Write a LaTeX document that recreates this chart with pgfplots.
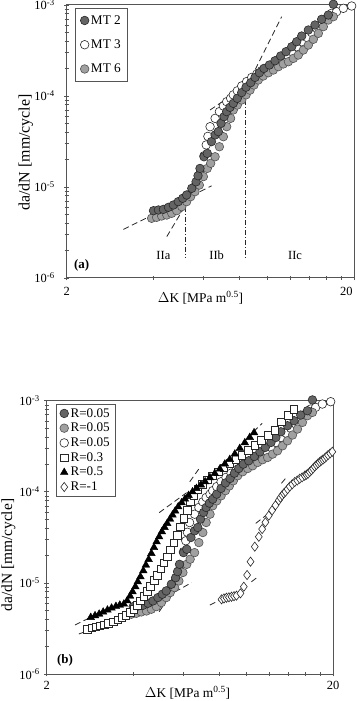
\documentclass[border=0pt]{standalone}
\usepackage{fontspec}
\setmainfont{Liberation Serif}
\usepackage{pgfplots}
\pgfplotsset{compat=1.18}
\definecolor{dk}{RGB}{100,100,100}
\definecolor{lt}{RGB}{160,160,160}
\definecolor{ed}{RGB}{40,40,40}
\definecolor{fr}{RGB}{85,85,85}
\tikzset{
  mtwo/.style={mark=*, mark size=4.3bp, mark options={fill=dk, draw=ed, line width=0.6bp}},
  mthree/.style={mark=*, mark size=4.3bp, mark options={fill=white, draw=ed, line width=0.6bp}},
  msix/.style={mark=*, mark size=4.3bp, mark options={fill=lt, draw=ed!80, line width=0.6bp}},
  rsq/.style={mark=square*, mark size=3.8bp, mark options={fill=white, draw=ed, line width=0.6bp}},
  rtri/.style={mark=triangle*, mark size=4.4bp, mark options={fill=black, draw=black, line width=0.4bp}},
  rdia/.style={mark=diamond*, mark size=4.6bp, mark options={fill=white, draw=ed, line width=0.6bp}},
  fitline/.style={black!85, line width=0.8bp, dash pattern=on 6bp off 3.5bp},
  bound/.style={black!85, line width=0.7bp, dash pattern=on 5bp off 2bp on 1bp off 2bp},
}
\begin{document}
\begin{tikzpicture}[x=1bp,y=1bp]
\useasboundingbox (0,0) rectangle (356,701);
% ---------------- panel (a) ----------------
\begin{axis}[
  xmode=log, ymode=log, scale only axis, clip=false,
  xmin=2, xmax=20, ymin=1e-6, ymax=1e-3,
  xtick={2,20}, xticklabels={2,{\makebox[0pt][r]{20\kern1.5bp}}},
  minor xtick={4,6,8,10,12,14,16,18},
  ytick={1e-6,1e-5,1e-4,1e-3},
  yticklabels={10\textsuperscript{-6},10\textsuperscript{-5},10\textsuperscript{-4},10\textsuperscript{-3}},
  minor ytick={2e-6,3e-6,4e-6,5e-6,6e-6,7e-6,8e-6,9e-6,2e-5,3e-5,4e-5,5e-5,6e-5,7e-5,8e-5,9e-5,2e-4,3e-4,4e-4,5e-4,6e-4,7e-4,8e-4,9e-4},
  xtick pos=left, ytick pos=left, tick align=center,
  major tick length=5bp, minor tick length=4bp,
  tick style={fr, line width=0.7bp},
  axis line style={fr, line width=1bp},
  tick label style={font=\fontsize{12.5}{14}\selectfont},
  legend cell align=left,
  at={(66.7bp,423bp)}, anchor=south west, width=287.3bp, height=273bp,
  x tick label style={yshift=-3bp}, y tick label style={xshift=-6bp},
  xlabel={$\Delta$K [MPa m\textsuperscript{0.5}]},
  ylabel={da/dN [mm/cycle]},
  xlabel style={at={(axis description cs:0.466,-0.072)}, anchor=center, font=\fontsize{13.5}{15}\selectfont},
  ylabel style={at={(axis description cs:-0.142,0.46)}, anchor=center, font=\fontsize{16}{18}\selectfont},
  legend style={at={(0.029,0.989)}, anchor=north west, draw=fr, line width=0.7bp,
    font=\fontsize{13.3}{15}\selectfont, row sep=10bp, inner xsep=5bp, inner ysep=5bp},
]
\addlegendimage{only marks, mtwo}\addlegendentry{MT 2}
\addlegendimage{only marks, mthree}\addlegendentry{MT 3}
\addlegendimage{only marks, msix}\addlegendentry{MT 6}
\addplot[fitline, forget plot] coordinates {(3.15,3.42e-6) (6.39,1.03e-5)};
\addplot[fitline, forget plot] coordinates {(4.46,2.85e-6) (5.23,6.61e-6)};
\addplot[fitline, forget plot] coordinates {(6.31,7.02e-5) (9.17,1.56e-4)};
\addplot[fitline, forget plot] coordinates {(8.46,1.27e-4) (11.20,7.44e-4)};
\addplot[bound, forget plot] coordinates {(5.19,7.8e-6) (5.19,1.64e-6)};
\addplot[bound, forget plot] coordinates {(8.35,9.0e-5) (8.35,1.64e-6)};
% MT 3
\addplot[only marks, mthree, forget plot] coordinates {
(4.25,5.2e-6) (4.50,5.5e-6) (4.75,5.9e-6) (4.96,6.6e-6) (5.30,8.2e-6) (5.59,1.01e-5) (5.82,1.41e-5)
(6.01,2.2e-5) (6.12,2.9e-5) (6.20,3.6e-5) (6.31,4.6e-5) (6.57,5.68e-5) (6.80,6.73e-5) (7.02,7.76e-5)
(7.21,8.66e-5) (7.44,9.43e-5) (7.60,1.03e-4) (7.85,1.14e-4) (8.13,1.29e-4) (8.46,1.44e-4) (8.81,1.60e-4)
(9.17,1.74e-4) (9.54,1.90e-4) (9.93,2.01e-4) (10.34,2.19e-4) (10.76,2.38e-4) (11.20,2.59e-4) (11.66,2.82e-4)
(12.14,3.07e-4) (12.63,3.48e-4) (13.15,3.95e-4) (13.69,4.41e-4) (14.24,4.97e-4) (14.83,5.54e-4) (15.43,6.29e-4)
(16.06,7.14e-4) (16.72,8.10e-4) (17.40,8.45e-4) (18.36,9.19e-4) (19.63,9.75e-4)};
% MT 6
\addplot[only marks, msix, forget plot] coordinates {
(3.95,4.53e-6) (4.11,4.64e-6) (4.28,4.80e-6) (4.46,4.92e-6) (4.64,5.14e-6) (4.83,5.49e-6) (5.03,6.08e-6)
(5.23,6.90e-6) (5.40,7.83e-6) (5.59,8.89e-6) (5.79,1.05e-5) (5.98,1.30e-5) (6.17,1.60e-5) (6.34,1.82e-5)
(6.57,2.15e-5) (6.80,2.77e-5) (7.02,3.57e-5) (7.21,4.60e-5) (7.44,5.68e-5) (7.60,7.02e-5) (7.85,7.96e-5)
(8.13,9.04e-5) (8.42,1.03e-4) (8.69,1.16e-4) (8.97,1.32e-4) (9.29,1.50e-4) (9.67,1.66e-4) (10.07,1.80e-4)
(10.48,1.93e-4) (10.91,2.10e-4) (11.35,2.25e-4) (11.82,2.38e-4) (12.30,2.59e-4) (12.80,2.82e-4) (13.33,3.20e-4)
(13.87,3.63e-4) (14.44,4.20e-4) (15.03,4.88e-4) (15.64,5.78e-4) (16.28,6.84e-4) (16.95,7.44e-4)};
% MT 2
\addplot[only marks, mtwo, forget plot] coordinates {
(4.01,5.49e-6) (4.17,5.59e-6) (4.34,5.68e-6) (4.52,5.98e-6) (4.70,6.34e-6) (4.89,6.90e-6) (5.07,7.51e-6)
(5.23,8.17e-6) (5.45,9.67e-6) (5.64,1.14e-5) (5.73,1.33e-5) (5.82,1.60e-5) (6.01,2.15e-5) (6.17,2.34e-5)
(6.38,3.15e-5) (6.57,3.73e-5) (6.74,4.06e-5) (6.89,5.01e-5) (7.06,5.93e-5) (7.21,6.73e-5) (7.40,7.51e-5)
(7.60,8.30e-5) (7.85,9.43e-5) (8.13,1.09e-4) (8.42,1.25e-4) (8.74,1.40e-4) (9.05,1.60e-4) (9.37,1.80e-4)
(9.72,2.01e-4) (10.15,2.19e-4) (10.62,2.44e-4) (11.11,2.75e-4) (11.60,3.07e-4) (12.14,3.48e-4) (12.63,3.95e-4)
(13.15,4.56e-4) (13.87,5.31e-4) (14.63,6.03e-4) (15.43,6.96e-4) (16.28,7.76e-4) (16.95,1.02e-3)};
\node[font=\fontsize{12.5}{14}\selectfont] at (axis cs:4.34,1.79e-6) {IIa};
\node[font=\fontsize{12.5}{14}\selectfont] at (axis cs:6.65,1.79e-6) {IIb};
\node[font=\fontsize{12.5}{14}\selectfont] at (axis cs:12.47,1.79e-6) {IIc};
\node[font=\bfseries\fontsize{13}{15}\selectfont, anchor=west, inner sep=0pt] at (axis cs:2.12,1.39e-6) {(a)};
\end{axis}
% ---------------- panel (b) ----------------
\begin{axis}[
  xmode=log, ymode=log, scale only axis, clip=false,
  xmin=2, xmax=20, ymin=1e-6, ymax=1e-3,
  xtick={2,20}, xticklabels={2,20},
  minor xtick={4,6,8,10,12,14,16,18},
  ytick={1e-6,1e-5,1e-4,1e-3},
  yticklabels={10\textsuperscript{-6},10\textsuperscript{-5},10\textsuperscript{-4},10\textsuperscript{-3}},
  minor ytick={2e-6,3e-6,4e-6,5e-6,6e-6,7e-6,8e-6,9e-6,2e-5,3e-5,4e-5,5e-5,6e-5,7e-5,8e-5,9e-5,2e-4,3e-4,4e-4,5e-4,6e-4,7e-4,8e-4,9e-4},
  xtick pos=left, ytick pos=left, tick align=center,
  major tick length=5bp, minor tick length=4bp,
  tick style={fr, line width=0.7bp},
  axis line style={fr, line width=1bp},
  tick label style={font=\fontsize{12.5}{14}\selectfont},
  legend cell align=left,
  at={(46.7bp,27bp)}, anchor=south west, width=286.3bp, height=273.3bp,
  x tick label style={yshift=-1bp}, y tick label style={xshift=-1bp},
  xlabel={$\Delta$K [MPa m\textsuperscript{0.5}]},
  ylabel={da/dN [mm/cycle]},
  xlabel style={at={(axis description cs:0.492,-0.069)}, anchor=center, font=\fontsize{13.5}{15}\selectfont},
  ylabel style={at={(axis description cs:-0.134,0.435)}, anchor=center, font=\fontsize{15.5}{17}\selectfont},
  legend style={at={(0.031,0.988)}, anchor=north west, draw=fr, line width=0.7bp,
    font=\fontsize{13.2}{14}\selectfont, row sep=0.5bp, inner xsep=4bp, inner ysep=2bp},
]
\addlegendimage{only marks, mtwo}\addlegendentry{R=0.05}
\addlegendimage{only marks, msix}\addlegendentry{R=0.05}
\addlegendimage{only marks, mthree}\addlegendentry{R=0.05}
\addlegendimage{only marks, rsq}\addlegendentry{R=0.3}
\addlegendimage{only marks, rtri}\addlegendentry{R=0.5}
\addlegendimage{only marks, rdia}\addlegendentry{R=-1}
\addplot[fitline, forget plot] coordinates {(2.51,3.45e-6) (3.33,5.34e-6)};
\addplot[fitline, forget plot] coordinates {(2.59,2.75e-6) (3.33,3.66e-6)};
\addplot[fitline, forget plot] coordinates {(3.51,3.54e-6) (6.41,1.005e-5)};
\addplot[fitline, forget plot] coordinates {(4.94,4.83e-6) (5.24,6.38e-6)};
\addplot[fitline, forget plot] coordinates {(4.94,5.90e-5) (6.16,9.77e-5)};
\addplot[fitline, forget plot] coordinates {(6.32,1.29e-4) (6.89,1.89e-4)};
\addplot[fitline, forget plot] coordinates {(9.97,3.86e-4) (11.31,5.64e-4)};
\addplot[fitline, forget plot] coordinates {(7.43,5.71e-6) (8.27,6.76e-6)};
\addplot[fitline, forget plot] coordinates {(10.38,1.03e-5) (10.95,1.17e-5)};
\addplot[fitline, forget plot] coordinates {(10.74,4.50e-5) (11.71,5.56e-5)};
\addplot[fitline, forget plot] coordinates {(13.21,1.24e-4) (13.75,1.44e-4)};
% R=0.05 (white)
\addplot[only marks, mthree, forget plot] coordinates {
(4.25,5.2e-6) (4.50,5.5e-6) (4.75,5.9e-6) (4.96,6.6e-6) (5.30,8.2e-6) (5.59,1.01e-5) (5.82,1.41e-5)
(6.01,2.2e-5) (6.12,2.9e-5) (6.20,3.6e-5) (6.31,4.6e-5) (6.57,5.68e-5) (6.80,6.73e-5) (7.02,7.76e-5)
(7.21,8.66e-5) (7.44,9.43e-5) (7.60,1.03e-4) (7.85,1.14e-4) (8.13,1.29e-4) (8.46,1.44e-4) (8.81,1.60e-4)
(9.17,1.74e-4) (9.54,1.90e-4) (9.93,2.01e-4) (10.34,2.19e-4) (10.76,2.38e-4) (11.20,2.59e-4) (11.66,2.82e-4)
(12.14,3.07e-4) (12.63,3.48e-4) (13.15,3.95e-4) (13.69,4.41e-4) (14.24,4.97e-4) (14.83,5.54e-4) (15.43,6.29e-4)
(16.06,7.14e-4) (16.72,8.10e-4) (17.40,8.45e-4) (18.36,9.19e-4) (19.63,9.75e-4)};
% R=0.05 (grey)
\addplot[only marks, msix, forget plot] coordinates {
(3.95,4.53e-6) (4.11,4.64e-6) (4.28,4.80e-6) (4.46,4.92e-6) (4.64,5.14e-6) (4.83,5.49e-6) (5.03,6.08e-6)
(5.23,6.90e-6) (5.40,7.83e-6) (5.59,8.89e-6) (5.79,1.05e-5) (5.98,1.30e-5) (6.17,1.60e-5) (6.34,1.82e-5)
(6.57,2.15e-5) (6.80,2.77e-5) (7.02,3.57e-5) (7.21,4.60e-5) (7.44,5.68e-5) (7.60,7.02e-5) (7.85,7.96e-5)
(8.13,9.04e-5) (8.42,1.03e-4) (8.69,1.16e-4) (8.97,1.32e-4) (9.29,1.50e-4) (9.67,1.66e-4) (10.07,1.80e-4)
(10.48,1.93e-4) (10.91,2.10e-4) (11.35,2.25e-4) (11.82,2.38e-4) (12.30,2.59e-4) (12.80,2.82e-4) (13.33,3.20e-4)
(13.87,3.63e-4) (14.44,4.20e-4) (15.03,4.88e-4) (15.64,5.78e-4) (16.28,6.84e-4) (16.95,7.44e-4)};
% R=0.05 (dark)
\addplot[only marks, mtwo, forget plot] coordinates {
(4.01,5.49e-6) (4.17,5.59e-6) (4.34,5.68e-6) (4.52,5.98e-6) (4.70,6.34e-6) (4.89,6.90e-6) (5.07,7.51e-6)
(5.23,8.17e-6) (5.45,9.67e-6) (5.64,1.14e-5) (5.73,1.33e-5) (5.82,1.60e-5) (6.01,2.15e-5) (6.17,2.34e-5)
(6.38,3.15e-5) (6.57,3.73e-5) (6.74,4.06e-5) (6.89,5.01e-5) (7.06,5.93e-5) (7.21,6.73e-5) (7.40,7.51e-5)
(7.60,8.30e-5) (7.85,9.43e-5) (8.13,1.09e-4) (8.42,1.25e-4) (8.74,1.40e-4) (9.05,1.60e-4) (9.37,1.80e-4)
(9.72,2.01e-4) (10.15,2.19e-4) (10.62,2.44e-4) (11.11,2.75e-4) (11.60,3.07e-4) (12.14,3.48e-4) (12.63,3.95e-4)
(13.15,4.56e-4) (13.87,5.31e-4) (14.63,6.03e-4) (15.43,6.96e-4) (16.28,7.76e-4) (16.95,1.02e-3)};
% R=0.3
\addplot[only marks, rsq, forget plot] coordinates {
(2.77,3.11e-6) (2.87,3.22e-6) (2.97,3.30e-6) (3.07,3.39e-6) (3.18,3.48e-6) (3.29,3.59e-6) (3.42,3.75e-6)
(3.54,3.94e-6) (3.66,4.18e-6) (3.78,4.44e-6) (3.91,4.75e-6) (4.03,5.12e-6) (4.14,5.67e-6) (4.25,6.38e-6)
(4.37,7.17e-6) (4.49,8.14e-6) (4.61,9.24e-6) (4.74,1.06e-5) (4.86,1.22e-5) (5.00,1.43e-5) (5.13,1.67e-5)
(5.27,1.94e-5) (5.41,2.30e-5) (5.56,2.76e-5) (5.71,3.35e-5) (5.87,4.14e-5) (6.03,5.11e-5) (6.19,6.31e-5)
(6.36,7.79e-5) (6.53,9.21e-5) (6.74,1.06e-4) (6.98,1.21e-4) (7.27,1.35e-4) (7.59,1.50e-4) (7.94,1.66e-4)
(8.31,1.84e-4) (8.72,2.05e-4) (9.15,2.27e-4) (9.60,2.53e-4) (10.10,2.87e-4) (10.66,3.26e-4) (11.25,3.70e-4)
(11.87,4.20e-4) (12.52,4.76e-4) (13.21,5.88e-4) (13.93,6.96e-4) (14.58,8.03e-4)};
% R=0.5
\addplot[only marks, rtri, forget plot] coordinates {
(2.85,4.18e-6) (2.95,4.37e-6) (3.05,4.55e-6) (3.15,4.79e-6) (3.26,5.04e-6) (3.37,5.30e-6) (3.49,5.53e-6)
(3.60,5.71e-6) (3.72,5.86e-6) (3.82,6.38e-6) (3.91,7.17e-6) (3.99,8.00e-6) (4.08,9.08e-6) (4.16,1.03e-5)
(4.25,1.17e-5) (4.35,1.36e-5) (4.44,1.57e-5) (4.54,1.81e-5) (4.64,2.11e-5) (4.74,2.45e-5) (4.84,2.83e-5)
(4.94,3.21e-5) (5.05,3.65e-5) (5.16,4.07e-5) (5.27,4.50e-5) (5.39,5.02e-5) (5.50,5.56e-5) (5.62,6.15e-5)
(5.76,6.86e-5) (5.92,7.59e-5) (6.08,8.33e-5) (6.26,9.14e-5) (6.46,1.00e-4) (6.67,1.09e-4) (6.91,1.19e-4)
(7.15,1.29e-4) (7.43,1.43e-4) (7.73,1.59e-4) (8.05,1.78e-4) (8.38,2.02e-4) (8.72,2.27e-4) (9.08,2.60e-4)
(9.45,3.00e-4) (9.84,3.46e-4) (10.24,3.96e-4) (10.60,4.45e-4)};
% R=-1
\addplot[only marks, rdia, forget plot] coordinates {
(8.16,6.60e-6) (8.32,6.75e-6) (8.49,6.88e-6) (8.66,6.95e-6) (8.84,7.05e-6) (9.02,7.15e-6) (9.20,7.24e-6)
(9.50,7.68e-6) (9.76,9.08e-6) (10.02,1.22e-5) (10.30,1.71e-5) (10.66,2.50e-5) (11.01,3.21e-5) (11.31,3.90e-5)
(11.61,4.62e-5) (11.93,5.47e-5) (12.25,6.25e-5) (12.59,7.10e-5) (12.93,8.05e-5) (13.10,8.60e-5) (13.28,9.14e-5)
(13.46,9.60e-5) (13.64,1.00e-4) (13.88,1.07e-4) (14.12,1.14e-4) (14.41,1.21e-4) (14.70,1.28e-4) (15.00,1.33e-4)
(15.30,1.39e-4) (15.60,1.44e-4) (15.93,1.50e-4) (16.15,1.54e-4) (16.36,1.58e-4) (16.58,1.65e-4) (16.81,1.72e-4)
(17.03,1.80e-4) (17.26,1.89e-4) (17.50,1.97e-4) (17.73,2.05e-4) (17.97,2.12e-4) (18.21,2.20e-4) (18.45,2.26e-4)
(18.70,2.33e-4) (18.96,2.43e-4) (19.22,2.53e-4) (19.55,2.64e-4) (19.89,2.75e-4)};
\node[font=\bfseries\fontsize{13}{15}\selectfont, anchor=west, inner sep=0pt] at (axis cs:2.17,1.42e-6) {(b)};
\end{axis}
\end{tikzpicture}
\end{document}
